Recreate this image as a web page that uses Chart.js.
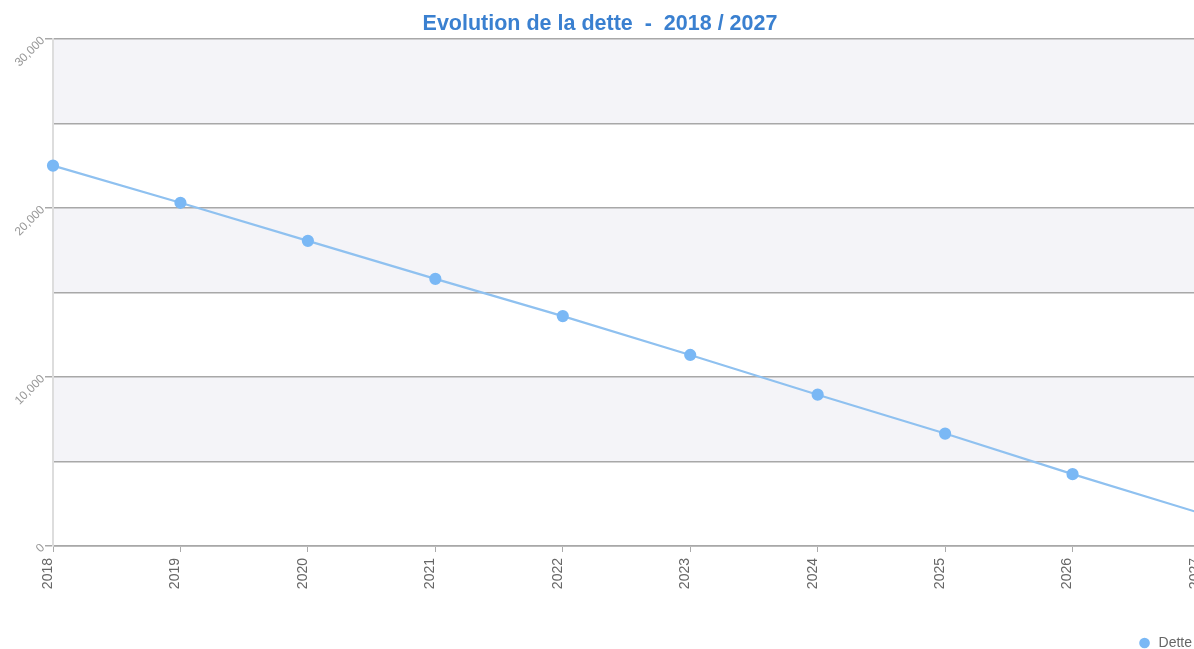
<!DOCTYPE html>
<html>
<head>
<meta charset="utf-8">
<script src="https://cdn.jsdelivr.net/npm/chart.js@4.4.1/dist/chart.umd.min.js"></script>
<style>
  html, body { margin: 0; padding: 0; background: #fff; overflow: hidden; }
  #wrap { width: 1200px; height: 649px; }
</style>
</head>
<body>
<div id="wrap"><canvas id="myChart"></canvas></div>
<script>
// Data
const years = ["2018", "2019", "2020", "2021", "2022", "2023", "2024", "2025", "2026", "2027"];
const dette = [22500, 20300, 18050, 15800, 13600, 11300, 8950, 6650, 4250, 1950];
const yTicks = [0, 10000, 20000, 30000];

// Alternating grey bands behind the plot
const bandPlugin = {
    id: "bands",
    beforeDraw(chart) {
        const ctx = chart.ctx;
        const area = chart.chartArea;
        const y = chart.scales.y;
        ctx.save();
        ctx.fillStyle = "#f4f4f8";
        for (let v = 5000; v < 30000; v += 10000) {
            const top = y.getPixelForValue(v + 5000);
            const bottom = y.getPixelForValue(v);
            ctx.fillRect(area.left, top, area.right - area.left, bottom - top);
        }
        ctx.restore();
    }
};

const ctx = document.getElementById("myChart").getContext("2d");
new Chart(ctx, {
    type: "line",
    data: {
        labels: years,
        datasets: [{
            label: "Dette",
            data: dette,
            borderColor: "#8fc1f0",
            backgroundColor: "#7ab8f5",
            pointBackgroundColor: "#7ab8f5",
            pointBorderColor: "#7ab8f5",
            borderWidth: 2.2,
            pointRadius: 5,
            tension: 0,
            fill: false
        }]
    },
    options: {
        responsive: true,
        maintainAspectRatio: false,
        animation: false,
        layout: { autoPadding: false, padding: { left: 0, right: 0, top: 0, bottom: -11 } },
        plugins: {
            title: {
                display: true,
                text: "Evolution de la dette  -  2018 / 2027",
                color: "#3a80d0",
                font: { family: "Liberation Sans", size: 21.5, weight: "bold" },
                padding: { top: 11, bottom: 2 }
            },
            legend: {
                display: true,
                position: "bottom",
                align: "end",
                labels: {
                    usePointStyle: true,
                    pointStyle: "circle",
                    boxWidth: 14,
                    boxHeight: 6,
                    color: "#666",
                    font: { family: "Liberation Sans", size: 14 },
                    padding: 8
                }
            },
            tooltip: { enabled: false }
        },
        scales: {
            x: {
                offset: false,
                grid: {
                    display: true,
                    drawOnChartArea: false,
                    drawTicks: true,
                    tickLength: 6,
                    tickColor: "#aaa"
                },
                border: { color: "#bbb" },
                ticks: {
                    minRotation: 90,
                    maxRotation: 90,
                    color: "#666",
                    padding: 6,
                    labelOffset: -5,
                    font: { family: "Liberation Sans", size: 14 }
                },
                afterFit(scale) {
                    scale.height = 82;
                    scale.paddingLeft = 0;
                    scale.paddingRight = 0;
                }
            },
            y: {
                min: 0,
                max: 30000,
                ticks: {
                    stepSize: 5000,
                    minRotation: 45,
                    maxRotation: 45,
                    color: "#999",
                    padding: 2,
                    font: { family: "Liberation Sans", size: 12 },
                    callback: function (v) {
                        return yTicks.includes(v) ? v.toLocaleString("en-US") : "";
                    }
                },
                grid: {
                    color: "#a8a8a8",
                    lineWidth: 1.5,
                    tickLength: 8,
                    tickColor: function (c) {
                        return yTicks.includes(c.tick.value) ? "#a8a8a8" : "rgba(0,0,0,0)";
                    }
                },
                border: { color: "#ddd", width: 2 },
                afterFit(scale) {
                    scale.width = 53;
                    scale.paddingTop = 0;
                    scale.paddingBottom = 0;
                }
            }
        }
    },
    plugins: [bandPlugin]
});
</script>
</body>
</html>
